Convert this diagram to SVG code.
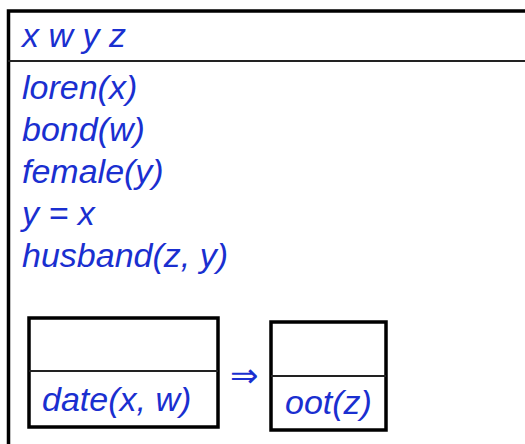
<svg xmlns="http://www.w3.org/2000/svg" width="525" height="444" viewBox="0 0 525 444">
<style>
.t{font-family:"Liberation Sans",Arial,sans-serif;font-style:italic;font-size:34px;fill:#1a2fd0}
.arrow{font-family:"DejaVu Sans",sans-serif;font-size:34px;fill:#1a2fd0}
.thick{fill:none;stroke:#000;stroke-width:3.5}
.thin{stroke:#222;stroke-width:2}
</style>
<rect width="525" height="444" fill="#fff"/>
<g id="outer">
<path class="thick" d="M8.5,446 V11 H530"/>
<line class="thin" x1="8" y1="61" x2="525" y2="61"/>
<text class="t" x="22" y="47">x w y z</text>
<text class="t" x="22" y="99">loren(x)</text>
<text class="t" x="22" y="141">bond(w)</text>
<text class="t" x="22" y="183">female(y)</text>
<text class="t" x="22" y="225">y = x</text>
<text class="t" x="22" y="267">husband(z, y)</text>
</g>
<g id="antecedent">
<rect class="thick" x="29" y="318" width="189" height="109"/>
<line class="thin" x1="29" y1="371" x2="218" y2="371"/>
<text class="t" x="42" y="411">date(x, w)</text>
</g>
<g id="connectors">
<text class="arrow" x="230" y="387">⇒</text>
</g>
<g id="consequent">
<rect class="thick" x="271" y="322" width="115" height="108"/>
<line class="thin" x1="271" y1="376" x2="386" y2="376"/>
<text class="t" x="285" y="414">oot(z)</text>
</g>
</svg>
